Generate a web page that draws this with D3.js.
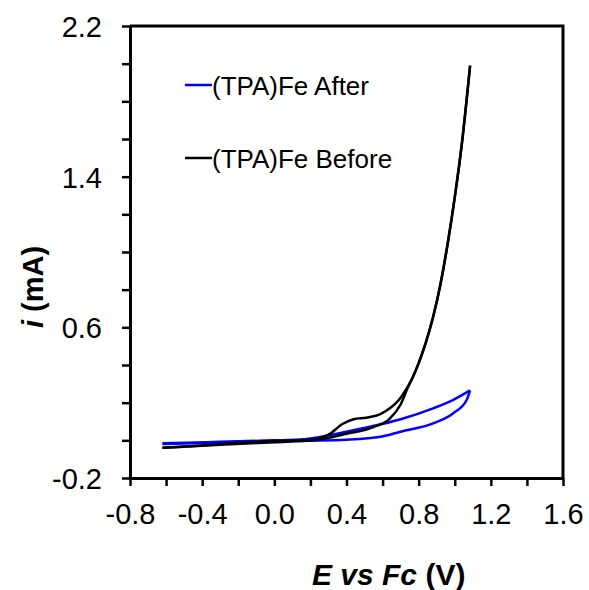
<!DOCTYPE html>
<meta charset="utf-8">
<script src="https://d3js.org/d3.v7.min.js"></script>
<style>
  body { margin: 0; background: #fff; }
  text { font-family: "Liberation Sans", Arial, sans-serif; fill: #000; }
</style>
<body>
<div id="cv"></div>
</body>
<script>
// cyclic voltammograms, potential (V vs Fc) and current (mA)
// each loop is stored as its two branches, both ordered by increasing potential
var beforeUpV = [-0.62, -0.4, -0.2, 0.0, 0.2, 0.3, 0.38, 0.44, 0.51, 0.59, 0.64, 0.69, 0.72, 0.76, 0.80, 0.84, 0.88, 0.92, 0.96, 1.00, 1.04, 1.085];
var beforeUpI = [-0.04, -0.027, -0.013, -0.004, 0.002, 0.03, 0.088, 0.112, 0.12, 0.14, 0.17, 0.214, 0.255, 0.32, 0.41, 0.52, 0.655, 0.825, 1.04, 1.29, 1.58, 1.99];
var beforeLowV = [-0.62, -0.3, 0.0, 0.21, 0.40, 0.55, 0.64, 0.70, 0.74, 0.76, 0.80, 0.84, 0.88, 0.92, 0.96, 1.00, 1.04, 1.085];
var beforeLowI = [-0.04, -0.024, -0.01, 0.0, 0.035, 0.07, 0.115, 0.19, 0.28, 0.32, 0.41, 0.52, 0.655, 0.825, 1.04, 1.29, 1.58, 1.99];
var afterUpV = [-0.62, -0.3, 0.0, 0.14, 0.31, 0.49, 0.70, 0.88, 0.99, 1.085];
var afterUpI = [-0.016, -0.008, 0.0, 0.004, 0.028, 0.064, 0.112, 0.17, 0.214, 0.265];
var afterLowV = [-0.62, -0.3, 0.0, 0.2, 0.40, 0.59, 0.70, 0.88, 0.99, 1.066, 1.085];
var afterLowI = [-0.02, -0.012, -0.005, -0.002, 0.003, 0.019, 0.046, 0.09, 0.143, 0.214, 0.265];

var seriesNames = ["(TPA)Fe After", "(TPA)Fe Before"];
var seriesColors = ["#0000ff", "#000000"];

var xTicks = d3.range(-8, 17, 2).map(function (d) { return d / 10; });
var yTicks = d3.range(-2, 23, 2).map(function (d) { return d / 10; });
var xLabels = [-0.8, -0.4, 0.0, 0.4, 0.8, 1.2, 1.6];
var yLabels = [-0.2, 0.6, 1.4, 2.2];

var margin = { top: 26, right: 26, bottom: 112, left: 130 },
    width = 589 - margin.left - margin.right,
    height = 590 - margin.top - margin.bottom;

var svg = d3.select("#cv")
    .append("svg")
    .attr("width", 589)
    .attr("height", 590)
    .append("g")
    .attr("transform", "translate(" + margin.left + "," + margin.top + ")");

var x = d3.scaleLinear().domain([-0.8, 1.6]).range([0, width]);
var y = d3.scaleLinear().domain([-0.2, 2.2]).range([height, 0]);

function isLabel(list, d) {
    return list.some(function (v) { return Math.abs(v - d) < 1e-6; });
}
// plain hyphen for negatives, like the original figure
function fmt(d) {
    return d3.format(".1f")(d).replace("\u2212", "-");
}

// box (top and right)
svg.append("path")
    .attr("d", "M0,0H" + width + "V" + height)
    .attr("fill", "none")
    .attr("stroke", "#000")
    .attr("stroke-width", 3);

// x axis
var gx = svg.append("g")
    .attr("transform", "translate(0," + height + ")")
    .call(d3.axisBottom(x).tickValues(xTicks).tickSize(8).tickSizeOuter(0)
        .tickFormat(function (d) { return isLabel(xLabels, d) ? fmt(d) : ""; }));
gx.select(".domain").attr("stroke-width", 3);
gx.selectAll(".tick line").attr("stroke-width", 2.5);
gx.selectAll(".tick text")
    .attr("y", 25).attr("dy", "0.71em")
    .style("font-size", "29px")
    .style("font-family", "'Liberation Sans', Arial, sans-serif");

// y axis
var gy = svg.append("g")
    .call(d3.axisLeft(y).tickValues(yTicks).tickSize(8).tickSizeOuter(0)
        .tickFormat(function (d) { return isLabel(yLabels, d) ? fmt(d) : ""; }));
gy.select(".domain").attr("stroke-width", 3);
gy.selectAll(".tick line").attr("stroke-width", 2.5);
gy.selectAll(".tick text")
    .attr("x", -28).attr("dy", "0.36em")
    .style("font-size", "29px")
    .style("font-family", "'Liberation Sans', Arial, sans-serif");

// axis titles
var xt = svg.append("text")
    .attr("x", 182)
    .attr("y", 559)
    .style("font-size", "30px")
    .style("font-weight", "bold");
xt.append("tspan").style("font-style", "italic").text("E vs Fc");
xt.append("tspan").text(" (V)");

var yt = svg.append("text")
    .attr("transform", "translate(-87," + 302 + ") rotate(-90)")
    .style("font-size", "29px")
    .style("font-weight", "bold");
yt.append("tspan").style("font-style", "italic").text("i");
yt.append("tspan").text(" (mA)");

// curves
var line = d3.line()
    .x(function (d) { return x(d[0]); })
    .y(function (d) { return y(d[1]); })
    .curve(d3.curveMonotoneX);

var curves = [
    { c: 0, pts: d3.zip(afterUpV, afterUpI) },
    { c: 0, pts: d3.zip(afterLowV, afterLowI) },
    { c: 1, pts: d3.zip(beforeLowV, beforeLowI) },
    { c: 1, pts: d3.zip(beforeUpV, beforeUpI) }
];

svg.selectAll(".cv")
    .data(curves)
    .enter()
    .append("path")
    .attr("class", "cv")
    .attr("d", function (d) { return line(d.pts); })
    .attr("fill", "none")
    .attr("stroke", function (d) { return seriesColors[d.c]; })
    .attr("stroke-width", 2.5)
    .attr("stroke-linejoin", "round");

// legend
var legend = svg.selectAll(".leg")
    .data(seriesNames)
    .enter()
    .append("g")
    .attr("class", "leg")
    .attr("transform", function (d, i) { return "translate(55," + (59 + i * 73) + ")"; });
legend.append("line")
    .attr("x1", 0).attr("x2", 27)
    .attr("stroke", function (d, i) { return seriesColors[i]; })
    .attr("stroke-width", 2.5);
legend.append("text")
    .attr("x", 27)
    .attr("y", 10)
    .style("font-size", "26px")
    .text(function (d) { return d; });
</script>
